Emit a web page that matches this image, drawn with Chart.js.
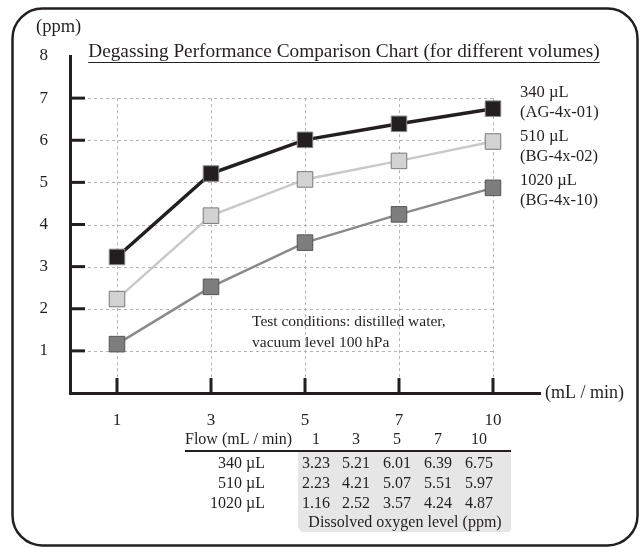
<!DOCTYPE html>
<html>
<head>
<meta charset="utf-8">
<script src="https://cdn.jsdelivr.net/npm/chart.js@4"></script>
<style>
html,body{margin:0;padding:0;background:#fff;}
canvas{display:block;}
</style>
</head>
<body>
<canvas id="c" width="642" height="547"></canvas>
<script>
const flows = ['1', '3', '5', '7', '10'];
const v340 = [3.23, 5.21, 6.01, 6.39, 6.75];
const v510 = [2.23, 4.21, 5.07, 5.51, 5.97];
const v1020 = [1.16, 2.52, 3.57, 4.24, 4.87];
const seriesNames = ['340 µL', '510 µL', '1020 µL'];
const seriesModels = ['(AG-4x-01)', '(BG-4x-02)', '(BG-4x-10)'];
const yTickValues = [1, 2, 3, 4, 5, 6, 7, 8];
const titleText = 'Degassing Performance Comparison Chart (for different volumes)';
const yUnit = '(ppm)';
const xUnit = '(mL / min)';
const noteLines = ['Test conditions: distilled water,', 'vacuum level 100 hPa'];
const tableHeader = 'Flow (mL / min)';
const tableFooter = 'Dissolved oxygen level (ppm)';

const INK = '#231f20';
const SERIF = '"Liberation Serif", "Times New Roman", serif';

const decor = {
  id: 'decor',
  beforeDatasetsDraw(chart) {
    const ctx = chart.ctx;
    const x = chart.scales.x, y = chart.scales.y;
    const ca = chart.chartArea;
    const xLast = x.getPixelForValue(flows.length - 1);
    const yTop = y.getPixelForValue(7);
    ctx.save();
    ctx.strokeStyle = '#b4b4b4';
    ctx.lineWidth = 1;
    ctx.setLineDash([3, 3]);
    for (let v = 1; v <= 7; v++) {
      const py = Math.round(y.getPixelForValue(v)) + 0.5;
      ctx.beginPath(); ctx.moveTo(ca.left, py); ctx.lineTo(xLast, py); ctx.stroke();
    }
    flows.forEach((f, i) => {
      const px = Math.round(x.getPixelForValue(i)) + 0.5;
      ctx.beginPath(); ctx.moveTo(px, yTop); ctx.lineTo(px, ca.bottom); ctx.stroke();
    });
    ctx.setLineDash([]);
    ctx.strokeStyle = INK;
    ctx.lineWidth = 3;
    for (let v = 1; v <= 7; v++) {
      const py = y.getPixelForValue(v);
      ctx.beginPath(); ctx.moveTo(ca.left, py); ctx.lineTo(ca.left + 15, py); ctx.stroke();
    }
    flows.forEach((f, i) => {
      const px = x.getPixelForValue(i);
      ctx.beginPath(); ctx.moveTo(px, ca.bottom); ctx.lineTo(px, ca.bottom - 15); ctx.stroke();
    });
    ctx.restore();
  },
  afterDraw(chart) {
    const ctx = chart.ctx;
    ctx.save();
    // frame
    ctx.strokeStyle = INK;
    ctx.lineWidth = 2.5;
    ctx.beginPath();
    ctx.roundRect(12.5, 8.5, 625, 537, 30);
    ctx.stroke();

    ctx.fillStyle = INK;
    ctx.textBaseline = 'middle';
    ctx.font = '18.5px ' + SERIF;
    ctx.textAlign = 'left';
    ctx.fillText(yUnit, 36, 27);
    ctx.font = '18px ' + SERIF;
    ctx.fillText(xUnit, 545, 393);
    // title
    ctx.font = '19.3px ' + SERIF;
    ctx.textAlign = 'center';
    const tx = 344, ty = 52;
    ctx.fillText(titleText, tx, ty);
    const tw = ctx.measureText(titleText).width;
    ctx.lineWidth = 1;
    ctx.beginPath(); ctx.moveTo(tx - tw / 2, ty + 10.5); ctx.lineTo(tx + tw / 2, ty + 10.5); ctx.stroke();

    // series labels
    ctx.font = '16.5px ' + SERIF;
    ctx.textAlign = 'left';
    const legY = [93, 137, 181];
    seriesNames.forEach((n, i) => {
      ctx.fillText(n, 520, legY[i]);
      ctx.fillText(seriesModels[i], 520, legY[i] + 20);
    });

    // note
    ctx.font = '15.5px ' + SERIF;
    ctx.fillText(noteLines[0], 252, 322);
    ctx.fillText(noteLines[1], 252, 343);

    // table
    const colX = [316, 356, 397, 438, 479];
    const boxL = 298, boxR = 511, boxT = 452, boxB = 532;
    ctx.fillStyle = '#e6e6e6';
    ctx.beginPath();
    ctx.roundRect(boxL, boxT, boxR - boxL, boxB - boxT, [0, 0, 4, 6]);
    ctx.fill();
    ctx.fillStyle = INK;
    ctx.strokeStyle = INK;
    ctx.lineWidth = 2;
    ctx.beginPath(); ctx.moveTo(185, 451); ctx.lineTo(511, 451); ctx.stroke();
    ctx.font = '16px ' + SERIF;
    ctx.textAlign = 'left';
    ctx.fillText(tableHeader, 185, 440);
    ctx.textAlign = 'center';
    flows.forEach((f, i) => ctx.fillText(f, colX[i], 440));
    const rows = [v340, v510, v1020];
    const rowY = [464, 484, 504];
    rows.forEach((r, ri) => {
      ctx.textAlign = 'right';
      ctx.fillText(seriesNames[ri], 265, rowY[ri]);
      ctx.textAlign = 'center';
      r.forEach((v, i) => ctx.fillText(v.toFixed(2), colX[i], rowY[ri]));
    });
    ctx.textAlign = 'center';
    ctx.fillText(tableFooter, 405, 523);
    ctx.restore();
  }
};

new Chart(document.getElementById('c'), {
  type: 'line',
  data: {
    labels: flows,
    datasets: [
      {
        label: seriesNames[0], data: v340,
        borderColor: INK, borderWidth: 3.5,
        pointStyle: 'rect', pointRadius: 11,
        pointBackgroundColor: INK, pointBorderColor: '#8a8a8a', pointBorderWidth: 1
      },
      {
        label: seriesNames[1], data: v510,
        borderColor: '#c9c9c9', borderWidth: 2.5,
        pointStyle: 'rect', pointRadius: 11,
        pointBackgroundColor: '#d2d2d2', pointBorderColor: '#7a7a7a', pointBorderWidth: 1
      },
      {
        label: seriesNames[2], data: v1020,
        borderColor: '#8a8a8a', borderWidth: 2.5,
        pointStyle: 'rect', pointRadius: 11,
        pointBackgroundColor: '#7d7d7d', pointBorderColor: '#555555', pointBorderWidth: 1
      }
    ]
  },
  options: {
    responsive: false,
    animation: false,
    devicePixelRatio: 1,
    layout: { padding: { top: 56, right: 102, bottom: 0, left: 0 } },
    plugins: { legend: { display: false }, tooltip: { enabled: false } },
    scales: {
      x: {
        type: 'category',
        offset: true,
        grid: { display: false, drawTicks: false },
        border: { display: true, color: INK, width: 3 },
        ticks: { color: INK, font: { family: SERIF, size: 17 }, padding: 17, maxRotation: 0 },
        afterFit(s) { s.height = 154; }
      },
      y: {
        min: 0, max: 8,
        afterBuildTicks(s) { s.ticks = [0].concat(yTickValues).map(v => ({ value: v })); },
        grid: { display: false, drawTicks: false },
        border: { display: true, color: INK, width: 3 },
        ticks: {
          color: INK, font: { family: SERIF, size: 17 }, padding: 22,
          callback: v => (v === 0 ? '' : String(v))
        },
        afterFit(s) { s.width = 70; }
      }
    }
  },
  plugins: [decor]
});
</script>
</body>
</html>
